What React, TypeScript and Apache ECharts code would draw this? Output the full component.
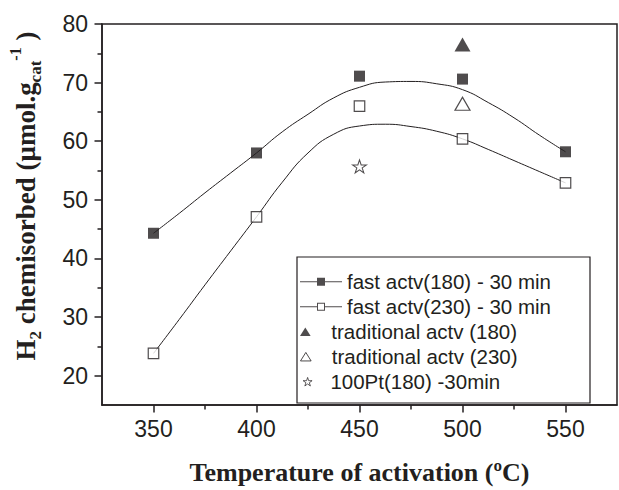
import React, { useEffect, useRef } from 'react';
import * as echarts from 'echarts';

// ---- data ----
const temps = [350, 400, 450, 500, 550];
const fast180 = [44.3, 58.0, 71.1, 70.6, 58.2];
const fast230 = [23.8, 47.1, 66.0, 60.4, 52.9];
const tradTemps = [500];
const trad180 = [76.5];
const trad230 = [66.4];
const ptTemps = [450];
const pt180 = [55.7];

// fitted curves as drawn in the reference (read every 12.5 °C)
const fitTemps = [
  350, 362.5, 375, 387.5, 400, 412.5, 425, 437.5, 450, 462.5, 475, 487.5, 500, 512.5, 525, 537.5, 550,
];
const fit180 = [
  44.3, 47.7, 51.2, 54.6, 58.0, 61.6, 64.6, 67.4, 69.2, 70.1, 70.2, 69.8, 68.8, 66.6, 64.0, 61.0, 58.2,
];
const fit230 = [
  23.8, 29.6, 35.5, 41.3, 47.1, 53.0, 58.0, 61.2, 62.6, 62.9, 62.5, 61.7, 60.4, 58.6, 56.7, 54.8, 52.9,
];

// tick labels
const xMajor = [350, 400, 450, 500, 550];
const xMinor = [375, 425, 475, 525];
const yMajor = [20, 30, 40, 50, 60, 70, 80];
const yMinor = [25, 35, 45, 55, 65, 75];

const seriesNames = [
  'fast actv(180) - 30 min',
  'fast actv(230) - 30 min',
  'traditional actv (180)',
  'traditional actv (230)',
  '100Pt(180) -30min',
];

const ink = '#231f20';
const starPath =
  'path://M10,0 L12.25,6.91 L19.51,6.91 L13.63,11.18 L15.88,18.09 L10,13.82 L4.12,18.09 L6.37,11.18 L0.49,6.91 L7.75,6.91 Z';
const triPath = 'path://M5,0 L10,8 L0,8 Z';
const iconFilled =
  'path://M0,3.5 L17,3.5 L17,4.5 L0,4.5 Z M17,0 L25,0 L25,8 L17,8 Z M25,3.5 L42,3.5 L42,4.5 L25,4.5 Z';
const iconOpen =
  'path://M0,3.5 L17,3.5 L17,4.5 L0,4.5 Z M17,0 L25,0 L25,8 L17,8 Z M18,1 L18,7 L24,7 L24,1 Z M25,3.5 L42,3.5 L42,4.5 L25,4.5 Z';

const sans = 'Liberation Sans, Arial, sans-serif';
const serif = 'Liberation Serif, Times New Roman, serif';

export default function App() {
  const ref = useRef<HTMLDivElement>(null);

  useEffect(() => {
    if (!ref.current) return;
    const chart = echarts.init(ref.current, undefined, { renderer: 'svg' });

    const legendText = { fontSize: 20.5, fontFamily: sans, color: ink };
    const rowCenters = [281.7, 306.7, 331.7, 356.7, 381.7];
    const mkLegend = (i: number, left: number, width: number, height: number, item: any) => ({
      data: [item],
      left,
      top: rowCenters[i] - 10.5,
      itemWidth: width,
      itemHeight: height,
      padding: 0,
      selectedMode: false,
      textStyle: legendText,
    });

    const majorAxisX = {
      type: 'value',
      min: 325,
      max: 575,
      interval: 25,
      position: 'bottom',
      axisLine: { lineStyle: { color: ink, width: 1.5 } },
      axisTick: { length: 7.5, customValues: xMajor, lineStyle: { color: ink, width: 1.5 } },
      axisLabel: { customValues: xMajor, fontSize: 23, fontFamily: sans, color: ink, margin: 12 },
      splitLine: { show: false },
      name: 'Temperature of activation (ºC)',
      nameLocation: 'middle',
      nameGap: 54,
      nameTextStyle: { fontSize: 26, fontWeight: 'bold', fontFamily: serif, color: ink },
    };
    const minorAxisX = {
      type: 'value',
      min: 325,
      max: 575,
      interval: 25,
      position: 'bottom',
      axisLine: { show: false },
      axisTick: { length: 4.5, customValues: xMinor, lineStyle: { color: ink, width: 1.5 } },
      axisLabel: { show: false },
      splitLine: { show: false },
    };
    const majorAxisY = {
      type: 'value',
      min: 15,
      max: 80,
      interval: 5,
      position: 'left',
      axisLine: { show: true, lineStyle: { color: ink, width: 1.5 } },
      axisTick: { show: true, length: 7.5, customValues: yMajor, lineStyle: { color: ink, width: 1.5 } },
      axisLabel: { customValues: yMajor, fontSize: 23, fontFamily: sans, color: ink, margin: 14 },
      splitLine: { show: false },
    };
    const minorAxisY = {
      type: 'value',
      min: 15,
      max: 80,
      interval: 5,
      position: 'left',
      axisLine: { show: false },
      axisTick: { show: true, length: 4.5, customValues: yMinor, lineStyle: { color: ink, width: 1.5 } },
      axisLabel: { show: false },
      splitLine: { show: false },
    };

    chart.setOption({
      animation: false,
      backgroundColor: '#ffffff',
      grid: {
        left: 102,
        right: 2,
        top: 24,
        bottom: 78,
        show: true,
        borderColor: ink,
        borderWidth: 1.5,
        backgroundColor: 'transparent',
      },
      xAxis: [majorAxisX, minorAxisX],
      yAxis: [majorAxisY, minorAxisY],
      legend: [
        mkLegend(0, 300, 42, 8, { name: seriesNames[0], icon: iconFilled, itemStyle: { color: ink, borderWidth: 0 } }),
        mkLegend(1, 300, 42, 8, { name: seriesNames[1], icon: iconOpen, itemStyle: { color: ink, borderWidth: 0 } }),
        mkLegend(2, 300, 42, 8.5, { name: seriesNames[2], icon: triPath, itemStyle: { color: ink, borderWidth: 0 } }),
        mkLegend(3, 300, 42, 8.5, {
          name: seriesNames[3],
          icon: triPath,
          itemStyle: { color: '#ffffff', borderColor: ink, borderWidth: 1 },
        }),
        mkLegend(4, 302.7, 35.6, 8.5, {
          name: seriesNames[4],
          icon: starPath,
          itemStyle: { color: '#ffffff', borderColor: ink, borderWidth: 0.9 },
        }),
      ],
      graphic: [
        {
          type: 'rect',
          shape: { x: 297, y: 257, width: 293, height: 146 },
          style: { fill: 'none', stroke: ink, lineWidth: 1.2 },
          silent: true,
          z: 1,
        },
        {
          type: 'text',
          x: 25.5,
          y: 196,
          rotation: Math.PI / 2,
          style: {
            text: '{b|H}{s|2}{b| chemisorbed (μmol.g}{c|cat}{p|-1}{b| )}',
            align: 'center',
            verticalAlign: 'middle',
            rich: {
              b: { fontSize: 27, fontWeight: 'bold', fontFamily: serif, fill: ink, lineHeight: 36, verticalAlign: 'middle' },
              s: { fontSize: 17, fontWeight: 'bold', fontFamily: serif, fill: ink, lineHeight: 17, verticalAlign: 'bottom' },
              c: { fontSize: 17, fontWeight: 'bold', fontFamily: serif, fill: ink, lineHeight: 22.6, verticalAlign: 'bottom' },
              p: { fontSize: 16, fontWeight: 'bold', fontFamily: serif, fill: ink, lineHeight: 34, verticalAlign: 'top' },
            },
          },
          silent: true,
        },
      ],
      series: [
        {
          type: 'line',
          data: fitTemps.map((t, i) => [t, fit180[i]]),
          smooth: 0.5,
          symbol: 'none',
          lineStyle: { color: ink, width: 1 },
          silent: true,
          z: 1,
        },
        {
          type: 'line',
          data: fitTemps.map((t, i) => [t, fit230[i]]),
          smooth: 0.5,
          symbol: 'none',
          lineStyle: { color: ink, width: 1 },
          silent: true,
          z: 1,
        },
        {
          name: seriesNames[0],
          type: 'scatter',
          data: temps.map((t, i) => [t, fast180[i]]),
          symbol: 'rect',
          symbolSize: 11,
          itemStyle: { color: ink },
          z: 3,
        },
        {
          name: seriesNames[1],
          type: 'scatter',
          data: temps.map((t, i) => [t, fast230[i]]),
          symbol: 'rect',
          symbolSize: 10.5,
          itemStyle: { color: '#ffffff', borderColor: ink, borderWidth: 1.2 },
          z: 3,
        },
        {
          name: seriesNames[2],
          type: 'scatter',
          data: tradTemps.map((t, i) => [t, trad180[i]]),
          symbol: 'triangle',
          symbolSize: [16, 14],
          itemStyle: { color: ink },
          z: 3,
        },
        {
          name: seriesNames[3],
          type: 'scatter',
          data: tradTemps.map((t, i) => [t, trad230[i]]),
          symbol: 'triangle',
          symbolSize: [15, 13],
          itemStyle: { color: '#ffffff', borderColor: ink, borderWidth: 1.2 },
          z: 3,
        },
        {
          name: seriesNames[4],
          type: 'scatter',
          data: ptTemps.map((t, i) => [t, pt180[i]]),
          symbol: starPath,
          symbolSize: [14, 13],
          itemStyle: { color: '#ffffff', borderColor: ink, borderWidth: 1 },
          z: 3,
        },
      ],
    } as any);

    return () => chart.dispose();
  }, []);

  return (
    <div
      ref={ref}
      style={{ position: 'absolute', left: 0, top: 0, width: 619, height: 490, background: '#fff' }}
    />
  );
}
